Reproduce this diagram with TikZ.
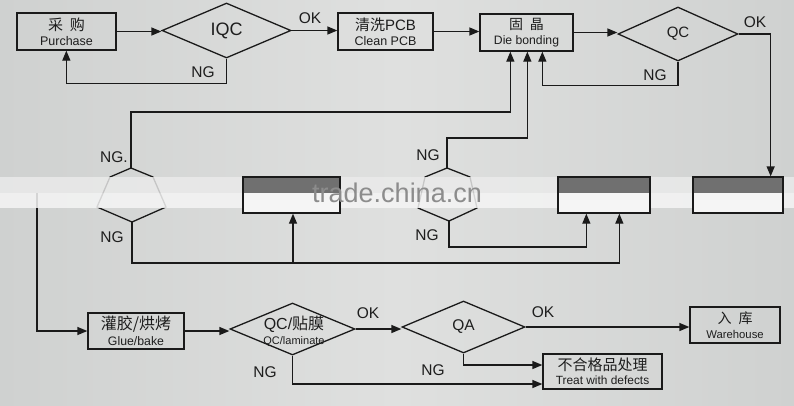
\documentclass[tikz,border=0pt]{standalone}
\usepackage{fontspec}
\setmainfont{Liberation Sans}
\newfontfamily\cjk{Noto Sans CJK SC}
\usetikzlibrary{arrows.meta,shapes.geometric,calc}
\definecolor{linec}{HTML}{1A1A1A}
\definecolor{txt}{HTML}{1E1E1E}
\definecolor{bgl}{HTML}{CFD1D0}
\definecolor{bgm}{HTML}{DFE0DF}
\definecolor{darktop}{HTML}{707070}
\definecolor{bandup}{HTML}{EBEBEB}
\definecolor{banddn}{HTML}{F5F5F5}
\begin{document}
\begin{tikzpicture}[x=1pt,y=-1pt,
  ln/.style={line width=1.3pt, draw=linec},
  arr/.style={ln, -{Triangle[length=10pt,width=8pt]}},
  box/.style={draw=linec, line width=1.3pt, inner sep=0pt, align=center, text=txt,
    font=\fontsize{12.5}{15}\selectfont},
  dia/.style={diamond, draw=linec, line width=1.3pt, inner sep=0pt, align=center, text=txt},
  lbl/.style={text=txt, inner sep=0pt, font=\fontsize{15.5}{16}\selectfont},
  midbox/.style={draw=linec, line width=1.3pt, fill=banddn, inner sep=0pt,
    minimum height=36pt,
    path picture={\fill[darktop] (path picture bounding box.north west) rectangle
      ([yshift=-16pt]path picture bounding box.north east);}},
  hexa/.style={ln}
]
\useasboundingbox (0,0) rectangle (794,405);
\shade[left color=bgl, right color=bgl, middle color=bgm] (0,0) rectangle (794,405);

% top row
\node[box, minimum width=99pt, minimum height=37pt] (p) at (66.5,31.5)
  {{\cjk\fontsize{15}{15}\selectfont 采\hspace{7pt}购}\\Purchase};
\node[dia, minimum width=129pt, minimum height=55pt, font=\fontsize{18}{18}\selectfont] (iqc) at (226.5,30.5) {IQC};
\node[box, minimum width=95pt, minimum height=37pt] (pcb) at (385.5,31.5)
  {{\fontsize{15}{15}\selectfont{\cjk 清洗}PCB}\\Clean PCB};
\node[box, minimum width=93pt, minimum height=37pt, font=\fontsize{12.2}{15}\selectfont] (db) at (526.5,32.5)
  {{\cjk\fontsize{14}{14}\selectfont 固\hspace{7pt}晶}\\Die bonding};
\node[dia, minimum width=120pt, minimum height=54pt, font=\fontsize{15}{15}\selectfont] (qc) at (678,34) {QC};

% bottom row
\node[box, minimum width=96pt, minimum height=36pt, font=\fontsize{12.3}{16}\selectfont] (glue) at (136,331)
  {{\cjk\fontsize{16}{16}\selectfont 灌胶/烘烤}\\Glue/bake};
\node[dia, minimum width=125pt, minimum height=52pt] (qcl) at (292.5,329) {};
\node[text=txt, inner sep=0pt, align=center, font=\fontsize{11}{15}\selectfont] (qclt) at (294,331)
  {{\fontsize{16}{16}\selectfont QC/\cjk 贴膜}\\QC/laminate};
\node[dia, minimum width=123pt, minimum height=52pt, font=\fontsize{15.5}{16}\selectfont] (qa) at (463.5,327) {QA};
\node[box, minimum width=90pt, minimum height=36pt, font=\fontsize{11.3}{15}\selectfont] (wh) at (735,325)
  {{\cjk\fontsize{14}{14}\selectfont 入\hspace{7pt}库}\\Warehouse};
\node[box, minimum width=119pt, minimum height=35pt, font=\fontsize{11.9}{14}\selectfont] (tr) at (602.5,371.5)
  {{\cjk\fontsize{15}{15}\selectfont 不合格品处理}\\Treat with defects};

% hexagons
\coordinate (h1t) at (131,168);
\coordinate (h1b) at (132,222);
\draw[hexa] (h1t) -- (110,177) -- (97,207) -- (h1b) -- (166,207) -- (153,177) -- cycle;
\coordinate (h2t) at (447,168);
\coordinate (h2b) at (449,221);
\draw[hexa] (h2t) -- (425,177) -- (418,208) -- (h2b) -- (477,208) -- (470,177) -- cycle;
\coordinate (lstart) at (37,193);

% connectors top
\draw[arr] (p.east) -- (p.east -| iqc.west);
\draw[arr] (iqc.south) -- ++(0,25) -| ([xshift=50pt]p.south west);
\draw[arr] (iqc.east) -- (iqc.east -| pcb.west);
\draw[arr] (pcb.east) -- (pcb.east -| db.west);
\draw[arr] (db.east) -- (db.east -| qc.west);
\draw[arr] (qc.south) -- ++(0,24) -| ([xshift=63pt]db.south west);
\draw[arr] (h1t) -- ++(0,-56) -| ([xshift=31pt]db.south west);
\draw[arr] (h2t) -- ++(0,-30) -| ([xshift=48pt]db.south west);

% labels
\node[lbl] (ok1) at (310,18) {OK};
\node[lbl] (ng1) at (203,72) {NG};
\node[lbl] (ok2) at (755,22) {OK};
\node[lbl] (ng2) at (655,75) {NG};
\node[lbl] (ng3) at (114,157) {NG.};
\node[lbl] (ng4) at (112,237) {NG};
\node[lbl] (ng5) at (428,155) {NG};
\node[lbl] (ng6) at (427,235) {NG};
\node[lbl] (ok3) at (368,313) {OK};
\node[lbl] (ok4) at (543,312) {OK};
\node[lbl] (ng7) at (265,372) {NG};
\node[lbl] (ng8) at (433,370) {NG};

% bottom connectors
\draw[arr] (lstart) |- (glue.west);
\draw[arr] (glue.east) -- (glue.east -| qcl.west);
\draw[arr] (qcl.east) -- (qcl.east -| qa.west);
\draw[arr] (qa.east) -- (qa.east -| wh.west);
\draw[arr] (qa.south) |- ([yshift=6.5pt]tr.west);
\draw[arr] (qcl.south) |- ([yshift=-12.5pt]tr.west);

% band
\fill[bandup, opacity=0.82] (0,177) rectangle (794,193);
\fill[banddn, opacity=0.85] (0,193) rectangle (794,208);

% middle boxes
\node[midbox, minimum width=97pt] (bA) at (291.5,195) {};
\node[midbox, minimum width=92pt] (bB) at (604,195) {};
\node[midbox, minimum width=90pt] (bC) at (738,195) {};

\draw[arr] (qc.east) -| ([xshift=-13pt]bC.north east);
\draw[arr] (h1b) -- ++(0,41) -| ([xshift=62pt]bB.south west);
\coordinate (j1) at (293,263);
\draw[arr] (j1) -- (j1 |- bA.south);
\draw[arr] (h2b) -- ++(0,26) -| ([xshift=29pt]bB.south west);

% watermark
\node[text=black!45, inner sep=0pt, anchor=base, font=\fontsize{27}{27}\selectfont] (wm) at (397,202) {trade.china.cn};
\end{tikzpicture}
\end{document}
